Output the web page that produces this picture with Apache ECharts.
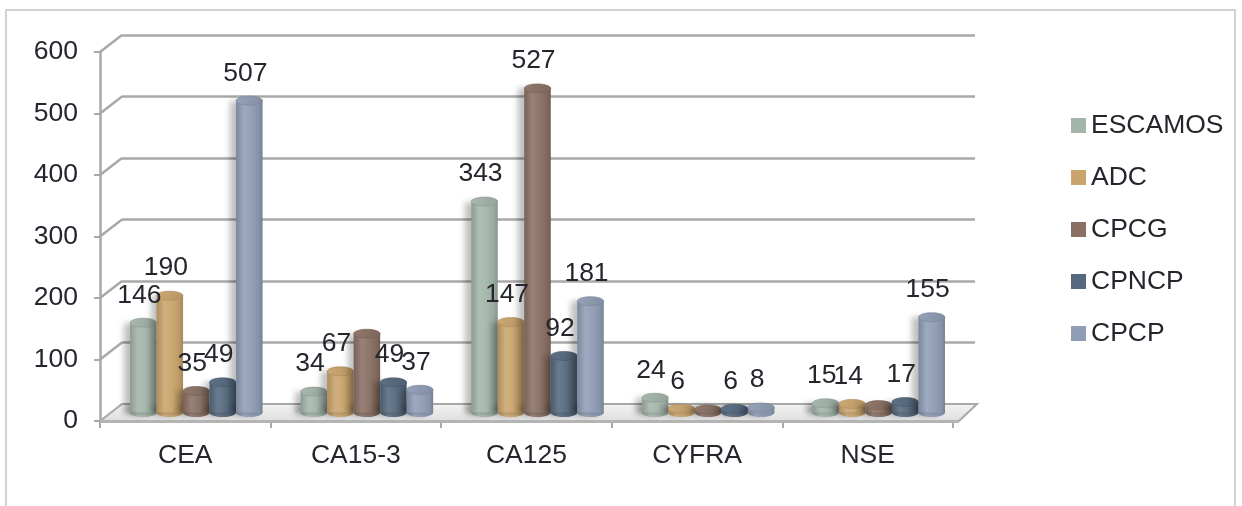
<!DOCTYPE html>
<html>
<head>
<meta charset="utf-8">
<script src="https://cdn.jsdelivr.net/npm/echarts@6/dist/echarts.min.js"></script>
<style>
  html, body { margin: 0; padding: 0; background: #ffffff; }
  #chart { width: 1242px; height: 506px; }
</style>
</head>
<body>
<div id="chart"></div>
<script>
// Marker values per tumour marker group
const categories = ['CEA', 'CA15-3', 'CA125', 'CYFRA', 'NSE'];
const seriesNames = ['ESCAMOS', 'ADC', 'CPCG', 'CPNCP', 'CPCP'];
const escamos = [146, 34, 343, 24, 15];
const adc = [190, 67, 147, 6, 14];
const cpcg = [35, 128, 527, 5, 12];
const cpncp = [49, 49, 92, 6, 17];
const cpcp = [507, 37, 181, 8, 155];
const yTicks = [0, 100, 200, 300, 400, 500, 600];
// Bars drawn without a value label
const unlabeled = { CPCG: ['CA15-3', 'CYFRA', 'NSE'] };

const seriesValues = [escamos, adc, cpcg, cpncp, cpcp];
const colors = ['#a3b5aa', '#caa46c', '#8a7064', '#56697f', '#8f9db5'];

const FONT = '"Liberation Sans", Arial, sans-serif';
const FS = 26.5;
const TEXT = '#25252d';
const GRIDC = '#a8a8a8';
// Depth of the 3D box (back wall offset from the front plane)
const DX = 22, DY = -17;
const BAR_W = 26.5;

function mix(hex, t) {
  // t > 0 lightens toward white, t < 0 darkens toward black
  const n = parseInt(hex.slice(1), 16);
  let r = (n >> 16) & 255, g = (n >> 8) & 255, b = n & 255;
  const f = c => Math.round(t >= 0 ? c + (255 - c) * t : c * (1 + t));
  return 'rgb(' + f(r) + ',' + f(g) + ',' + f(b) + ')';
}
function bodyGrad(c) {
  return new echarts.graphic.LinearGradient(0, 0, 1, 0, [
    { offset: 0, color: mix(c, -0.14) },
    { offset: 0.3, color: mix(c, 0.12) },
    { offset: 0.55, color: mix(c, 0.05) },
    { offset: 0.85, color: mix(c, -0.06) },
    { offset: 1, color: mix(c, -0.18) }
  ]);
}
function capGrad(c) {
  return new echarts.graphic.LinearGradient(0, 0, 1, 1, [
    { offset: 0, color: mix(c, 0.06) },
    { offset: 1, color: mix(c, -0.1) }
  ]);
}

const chart = echarts.init(document.getElementById('chart'), null, { renderer: 'canvas' });

const frontGrid = { left: 100, right: 289, top: 52, bottom: 85 };
const barGrid = { left: 100 + DX / 2, right: 289 - DX / 2, top: 52 + DY / 2, bottom: 85 - DY / 2 };
const backGrid = { left: 100 + DX, right: 289 - DX, top: 52 + DY, bottom: 85 - DY };

const yBase = { type: 'value', min: 0, max: 600, interval: 100 };

const barSeries = seriesValues.map((vals, s) => ({
  name: seriesNames[s],
  type: 'custom',
  xAxisIndex: 1,
  yAxisIndex: 1,
  z: 5,
  itemStyle: { color: colors[s] },
  data: vals.map((v, i) => [i, v]),
  encode: { x: 0, y: 1 },
  renderItem: function (params, api) {
    const idx = api.value(0);
    const val = api.value(1);
    const base = api.coord([idx, 0]);
    const top = api.coord([idx, val]);
    const cx = base[0] + (s - 2) * BAR_W;
    const x0 = cx - BAR_W / 2;
    const rx = BAR_W / 2, ry = 4.5;
    const c = colors[s];
    const children = [
      { type: 'ellipse', shape: { cx: cx, cy: base[1], rx: rx, ry: ry },
        style: { fill: bodyGrad(c), shadowColor: 'rgba(0,0,0,0.3)', shadowBlur: 6, shadowOffsetX: -5, shadowOffsetY: -2 } },
      { type: 'rect', shape: { x: x0, y: top[1], width: BAR_W, height: base[1] - top[1] },
        style: { fill: bodyGrad(c), shadowColor: 'rgba(0,0,0,0.25)', shadowBlur: 6, shadowOffsetX: -6, shadowOffsetY: 0 } },
      { type: 'ellipse', shape: { cx: cx, cy: top[1], rx: rx, ry: ry },
        style: { fill: capGrad(c), stroke: mix(c, -0.15), lineWidth: 0.6 } }
    ];
    const hidden = unlabeled[seriesNames[s]] || [];
    if (hidden.indexOf(categories[idx]) < 0) {
      children.push({
        type: 'text', z2: 100,
        style: { text: String(val), x: cx - 4, y: top[1] - 14, textAlign: 'center', textVerticalAlign: 'bottom',
          fontSize: FS, fontFamily: FONT, fill: TEXT }
      });
    }
    return { type: 'group', children: children };
  }
}));

const option = {
  backgroundColor: '#ffffff',
  animation: false,
  graphic: [
    { type: 'rect', shape: { x: 6, y: 10, width: 1229, height: 520 },
      style: { fill: 'none', stroke: '#c4c4c4', lineWidth: 1.5 }, silent: true }
  ],
  legend: {
    orient: 'vertical',
    left: 1066,
    top: 107,
    itemWidth: 15,
    itemHeight: 15,
    itemGap: 25,
    icon: 'rect',
    data: seriesNames,
    textStyle: { fontSize: FS, fontFamily: FONT, color: TEXT, lineHeight: 26 }
  },
  grid: [
    Object.assign({ containLabel: false }, frontGrid),
    Object.assign({ containLabel: false }, barGrid),
    Object.assign({ containLabel: false }, backGrid)
  ],
  xAxis: [
    { type: 'category', gridIndex: 0, data: categories, boundaryGap: true,
      axisLine: { show: true, lineStyle: { color: GRIDC, width: 2.5 } },
      axisTick: { show: true, length: 7, lineStyle: { color: GRIDC, width: 2 } },
      axisLabel: { margin: 21, fontSize: FS, fontFamily: FONT, color: TEXT },
      splitLine: { show: false } },
    { type: 'category', gridIndex: 1, data: categories, boundaryGap: true, show: false },
    { type: 'category', gridIndex: 2, data: categories, boundaryGap: true, show: false }
  ],
  yAxis: [
    Object.assign({ gridIndex: 0,
      axisLine: { show: true, lineStyle: { color: GRIDC, width: 2.5 } },
      axisTick: { show: true, length: 6, lineStyle: { color: GRIDC, width: 2 } },
      axisLabel: { margin: 22, fontSize: FS, fontFamily: FONT, color: TEXT },
      splitLine: { show: false } }, yBase),
    Object.assign({ gridIndex: 1, show: false, splitLine: { show: false } }, yBase),
    Object.assign({ gridIndex: 2,
      axisLine: { show: false }, axisTick: { show: false }, axisLabel: { show: false },
      splitLine: { show: true, lineStyle: { color: GRIDC, width: 2.5 } } }, yBase)
  ],
  series: [
    // Side wall: connects each front tick to its back-wall gridline
    {
      type: 'custom', xAxisIndex: 0, yAxisIndex: 0, z: 1, silent: true,
      data: yTicks.filter(v => v > 0).map(v => [0, v]),
      renderItem: function (params, api) {
        const p = api.coord([0, api.value(1)]);
        const x = params.coordSys.x;
        return { type: 'line', shape: { x1: x, y1: p[1], x2: x + DX, y2: p[1] + DY },
          style: { stroke: GRIDC, lineWidth: 2.5 } };
      }
    },
    // Floor slab
    {
      type: 'custom', xAxisIndex: 0, yAxisIndex: 0, z: 2, silent: true,
      data: [[0, 0]],
      renderItem: function (params, api) {
        const cs = params.coordSys;
        const y0 = api.coord([0, 0])[1];
        const xl = cs.x, xr = cs.x + cs.width;
        return { type: 'group', children: [
          { type: 'polygon', shape: { points: [[xl, y0], [xr + 6, y0], [xr + DX + 2, y0 + DY], [xl + DX, y0 + DY]] },
            style: { fill: new echarts.graphic.LinearGradient(0, 0, 0, 1, [
              { offset: 0, color: '#f4f4f4' }, { offset: 1, color: '#dedede' } ]),
              stroke: GRIDC, lineWidth: 2 } },
          { type: 'rect', shape: { x: xl, y: y0 - 1, width: cs.width + 6, height: 3 },
            style: { fill: '#b4b4b4' } }
        ] };
      }
    }
  ].concat(barSeries)
};

chart.setOption(option);
</script>
</body>
</html>
